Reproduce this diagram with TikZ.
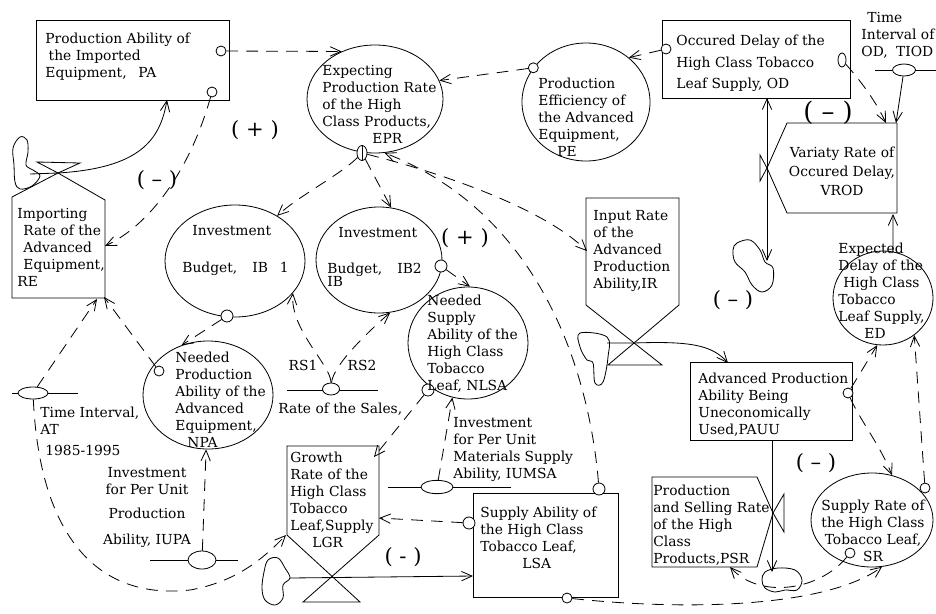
\documentclass[tikz,border=0pt]{standalone}
\usepackage{fontspec}
\setmainfont{DejaVu Serif}
\usetikzlibrary{arrows.meta, shapes.geometric}

\begin{document}
\begin{tikzpicture}[x=0.03cm, y=-0.03cm, line width=0.7pt,
  font=\fontsize{11.8}{14.5}\selectfont,
  lbl/.style={inner sep=0pt, align=left, anchor=north west},
  clbl/.style={inner sep=0pt, align=center, anchor=north},
  stock/.style={draw, rectangle, inner sep=0pt},
  auxv/.style={draw, ellipse, inner sep=0pt},
  port/.style={draw, circle, fill=white, inner sep=0pt, minimum size=0.3cm},
  valve/.style={draw, ellipse, fill=white, inner sep=0pt},
  arr/.style={-{Straight Barb[length=9pt, width=8pt]}},
  link/.style={arr, dash pattern=on 10pt off 7pt},
  sgn/.style={inner sep=0pt, font=\fontsize{18}{18}\selectfont}]
  \useasboundingbox (0,0) rectangle (936,613);
  \clip (0,0) rectangle (936,613);

  % Levels
  \node[stock, minimum width=5.79cm, minimum height=2.4cm] (PA) at (132.5,60) {};
  \node[stock, minimum width=5.64cm, minimum height=2.34cm] (OD) at (756,59) {};
  \node[stock, minimum width=4.86cm, minimum height=2.34cm] (PAUU) at (771,401) {};
  \node[stock, minimum width=4.35cm, minimum height=3.12cm] (LSA) at (545.5,545) {};

  % Auxiliaries
  \node[auxv, minimum width=4.08cm, minimum height=3.24cm] (EPR) at (375,99) {};
  \node[auxv, minimum width=3.84cm, minimum height=3.54cm] (PE) at (586,102) {};
  \node[auxv, minimum width=4.2cm, minimum height=3.36cm] (IB1) at (235,261) {};
  \node[auxv, minimum width=3.78cm, minimum height=3.18cm] (IB2) at (379,260) {};
  \node[auxv, minimum width=3.6cm, minimum height=3.36cm] (NLSA) at (468,343) {};
  \node[auxv, minimum width=3.9cm, minimum height=3.24cm] (NPA) at (208,395) {};
  \node[auxv, minimum width=3.0cm, minimum height=2.82cm] (ED) at (883,298) {};
  \node[auxv, minimum width=3.66cm, minimum height=2.82cm] (SR) at (872,520) {};

  % Rates
  \draw (12,197) -- (12,298) -- (105,298) -- (105,200) -- (58,173) -- cycle;
  \draw (58,173) -- (37,162) -- (80,163) -- cycle;
  \draw (586,198) -- (679,198) -- (679,305) -- (608,365) -- (662,365) -- (586,305) -- cycle;
  \draw (787,123) -- (897,123) -- (897,213) -- (787,213) -- (767,168) -- cycle;
  \draw (767,168) -- (760,155) -- (760,181) -- cycle;
  \draw (287,446) -- (379,446) -- (379,535) -- (303,602) -- (360,602) -- (287,535) -- cycle;
  \draw (652,477) -- (757,477) -- (773,513) -- (757,567) -- (652,567) -- cycle;
  \draw (773,513) -- (784,494) -- (784,532) -- cycle;

  % Clouds
  \draw plot[smooth cycle, tension=0.6] coordinates {(20,137) (27,140) (28,152) (26,165) (33,170) (40,176) (32,186) (20,189) (15,182) (14,165) (13,148)};
  \draw plot[smooth cycle, tension=0.6] coordinates {(737,243) (750,240) (760,250) (765,262) (773,268) (772,285) (762,292) (752,285) (745,272) (735,262) (733,250)};
  \draw plot[smooth cycle, tension=0.6] coordinates {(580,333) (607,337) (608,357) (603,382) (595,383) (593,363) (587,360) (580,347)};
  \draw plot[smooth cycle, tension=0.6] coordinates {(268,560) (278,558) (285,568) (290,578) (283,585) (283,598) (275,605) (265,600) (262,588) (264,572)};
  \draw plot[smooth cycle, tension=0.6] coordinates {(765,572) (778,568) (795,570) (802,580) (797,590) (785,590) (775,592) (765,588) (762,580)};

  % Connection points
  \coordinate (PAin) at (167,100);
  \coordinate (REr) at (105,246);
  \coordinate (REb1) at (97,299);
  \coordinate (REb2) at (104,297);
  \coordinate (ODb) at (767,98);
  \coordinate (ODcl) at (767,261);
  \coordinate (VRODt1) at (886,123);
  \coordinate (VRODt2) at (896,123);
  \coordinate (VRODb) at (893,214);
  \coordinate (IRl) at (587,251);
  \coordinate (PAUUin) at (728,363);
  \coordinate (PAUUb) at (772,440);
  \coordinate (PSRcl) at (772,572);
  \coordinate (PSRb) at (730,567);
  \coordinate (LGRr1) at (374,457);
  \coordinate (LGRr2) at (379,518);
  \coordinate (LGRbl) at (286,535);
  \coordinate (LSAin) at (473,576);

  % Pipes and valves
  \draw (875,70) -- (936,70);
  \node[valve, minimum width=0.69cm, minimum height=0.36cm] (TIODv) at (904,70) {};
  \draw (12,393) -- (78,393);
  \node[valve, minimum width=0.9cm, minimum height=0.36cm] (ATv) at (33,393) {};
  \draw (287,390) -- (378,390);
  \node[valve, minimum width=0.51cm, minimum height=0.36cm] (RSv) at (331,389) {};
  \draw (388,487) -- (511,487);
  \node[valve, minimum width=0.96cm, minimum height=0.4cm] (IUMSAv) at (437,487) {};
  \draw (150,560) -- (238,560);
  \node[valve, minimum width=0.84cm, minimum height=0.54cm] (IUPAv) at (202,560) {};

  % Ports
  \node[port] (PAo1) at (221,51) {};
  \node[port] (PAo2) at (212,92) {};
  \node[port] (PEo) at (PE.147) {};
  \node[port] (ODo1) at (666,49) {};
  \node[valve, minimum width=0.24cm, minimum height=0.42cm] (ODo2) at (842,60) {};
  \node[valve, minimum width=0.3cm, minimum height=0.45cm] (EPRo) at (362,153) {};
  \draw (EPRo.north) -- (EPRo.south);
  \node[port, minimum size=0.36cm] (IB1o) at (227,316) {};
  \node[port, minimum size=0.36cm] (IB2o) at (441,266) {};
  \node[port, minimum size=0.36cm] (NLSAo) at (428,390) {};
  \node[port] (NPAo) at (159,371) {};
  \node[port] (PAUUo) at (848,393) {};
  \node[port] (SRo1) at (925,488) {};
  \node[port] (SRo2) at (850,553) {};
  \node[port, minimum size=0.36cm] (LSAo1) at (469,523) {};
  \node[port, minimum size=0.36cm] (LSAo2) at (599,489) {};
  \node[port] (LSAo3) at (567,598) {};

  % Flows
  \draw[arr] (30,174) -- (58,173) .. controls (140,168) and (160,140) .. (PAin);
  \draw[{Straight Barb[length=9pt, width=8pt]}-{Straight Barb[length=9pt, width=8pt]}] (ODb) -- (ODcl);
  \draw[arr] (607,343) -- (634,343) .. controls (690,341) and (712,345) .. (PAUUin);
  \draw[arr] (PAUUb) -- (PSRcl);
  \draw[arr] (290,578) -- (LSAin);

  % Information links
  \draw[link] (PAo1) -- (EPR.125);
  \draw[link] (PAo2) .. controls (190,170) and (150,225) .. (REr);
  \draw[link] (PEo) -- (EPR.16);
  \draw[link] (ODo1) -- (PE.46);
  \draw[link] (ODo2) .. controls (860,80) and (875,100) .. (VRODt1);
  \draw[arr] (TIODv) -- (VRODt2);
  \draw[arr] (ED.78) -- (VRODb);
  \draw[link] (EPRo) .. controls (340,175) and (300,195) .. (IB1.47);
  \draw[link] (EPRo) -- (IB2.77);
  \draw[link] (EPRo) .. controls (430,170) and (540,205) .. (IRl);
  \draw[link] (LSAo2) .. controls (590,380) and (545,215) .. (EPR.-80);
  \draw[link] (IB1o) -- (NPA.118);
  \draw[link] (NPAo) -- (REb2);
  \draw[link] (ATv) -- (REb1);
  \draw[link] (RSv) .. controls (331,365) and (290,330) .. (IB1.-29);
  \draw[link] (RSv) .. controls (333,365) and (370,330) .. (IB2.-78);
  \draw[link] (IB2o) -- (NLSA.88);
  \draw[link] (NLSAo) -- (LGRr1);
  \draw[link] (IUMSAv) -- (NLSA.-106);
  \draw[link] (LSAo1) -- (LGRr2);
  \draw[link] (IUPAv) -- (NPA.-92);
  \draw[link] (ATv) .. controls (40,540) and (100,600) .. (190,590) .. controls (235,582) and (262,560) .. (LGRbl);
  \draw[link] (PAUUo) -- (ED.-97);
  \draw[link] (PAUUo) .. controls (860,420) and (880,445) .. (SR.66);
  \draw[link] (SRo1) -- (ED.-50);
  \draw[link] (LSAo3) .. controls (700,612) and (830,605) .. (SR.-78);
  \draw[link] (SRo2) .. controls (820,590) and (760,600) .. (PSRb);

  % Texts
  \node[lbl] (PAt) at (45,33) {Production Ability of\\\hspace*{0.1cm}the Imported\\Equipment,\hspace{0.35cm}PA};
  \node[lbl] (EPRt) at (322,65) {Expecting\\Production Rate\\of the High\\Class Products,\\\hspace*{1.5cm}EPR};
  \node[lbl] (PEt) at (538,78) {Production\\Efficiency of\\the Advanced\\Equipment,\\\hspace*{0.57cm}PE};
  \node[lbl] (ODt) at (676,35) {Occured Delay of the\\[3.5pt]High Class Tobacco\\[3.5pt]Leaf Supply, OD};
  \node[lbl] (TIODt) at (861,12) {\hspace*{0.18cm}Time\\Interval of\\OD,\hspace{0.25cm}TIOD};
  \node[clbl] (VRODt) at (842,147) {Variaty Rate of\\[1.5pt]Occured Delay,\\[1.5pt]VROD};
  \node[lbl] (IB1t) at (182,225) {\hspace*{0.3cm}Investment\\[17pt]Budget,\hspace{0.45cm}IB\hspace{0.36cm}1};
  \node[lbl] (IB2t) at (327,227) {\hspace*{0.33cm}Investment\\[16pt]Budget,\hspace{0.45cm}IB2\\[-3pt]IB};
  \node[lbl] (NLSAt) at (427,295) {Needed\\Supply\\Ability of the\\High Class\\Tobacco\\Leaf, NLSA};
  \node[lbl] (NPAt) at (175,352) {Needed\\Production\\Ability of the\\Advanced\\Equipment,\\\hspace*{0.36cm}NPA};
  \node[lbl] (REt) at (17,208) {Importing\\\hspace*{0.18cm}Rate of the\\\hspace*{0.18cm}Advanced\\\hspace*{0.18cm}Equipment,\\RE};
  \node[lbl] (IRt) at (593,210) {Input Rate\\of the\\Advanced\\Production\\Ability,IR};
  \node[lbl] (PAUUt) at (698,373) {Advanced Production\\Ability Being\\Uneconomically\\Used,PAUU};
  \node[lbl] (EDt) at (838,243) {Expected\\Delay of the\\\hspace*{0.15cm}High Class\\Tobacco\\Leaf Supply,\\\hspace*{0.78cm}ED};
  \node[clbl] (SRt) at (873,500) {Supply Rate of\\the High Class\\Tobacco Leaf,\\SR};
  \node[lbl] (LSAt) at (480,507) {Supply Ability of\\the High Class\\Tobacco Leaf,\\\hspace*{1.26cm}LSA};
  \node[lbl] (LGRt) at (290,452) {Growth\\Rate of the\\High Class\\Tobacco\\Leaf,Supply\\\hspace*{0.66cm}LGR};
  \node[lbl] (PSRt) at (653,485) {Production\\and Selling Rate\\of the High\\Class\\Products,PSR};
  \node[lbl] (IUMSAt) at (453,417) {Investment\\for Per Unit\\Materials Supply\\Ability, IUMSA};
  \node[clbl] (IUPAt) at (147,467) {Investment\\for Per Unit\\[6pt]Production\\[8pt]Ability, IUPA};
  \node[lbl] (ATt) at (40,407) {Time Interval,\\AT\\[3pt]\hspace*{0.15cm}1985-1995};
  \node[inner sep=0pt] (RS1t) at (303,365) {RS1};
  \node[inner sep=0pt] (RS2t) at (362,365) {RS2};
  \node[lbl] (RSt) at (278,403) {Rate of the Sales,};

  % Polarity signs
  \node[sgn] (sg1) at (255,130) {( + )};
  \node[sgn] (sg2) at (157,180) {( – )};
  \node[sgn] (sg3) at (465,238) {( + )};
  \node[sgn, font=\fontsize{22}{22}\selectfont] (sg4) at (828,113) {( – )};
  \node[sgn] (sg5) at (733,300) {( – )};
  \node[sgn] (sg6) at (403,557) {( - )};
  \node[sgn] (sg7) at (816,463) {( – )};
\end{tikzpicture}
\end{document}
